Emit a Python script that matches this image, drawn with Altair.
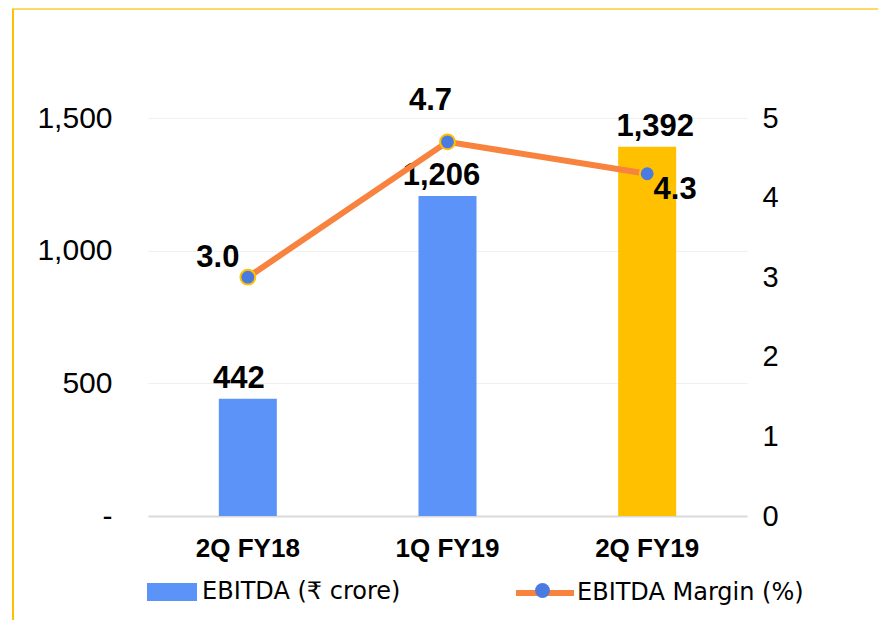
import altair as alt
import pandas as pd

categories = ["2Q FY18", "1Q FY19", "2Q FY19"]
ebitda = [442, 1206, 1392]
ebitda_labels = ["442", "1,206", "1,392"]
margin = [3.0, 4.7, 4.3]
margin_labels = ["3.0", "4.7", "4.3"]
highlight = ["2Q FY19"]
left_ticks = [0, 500, 1000, 1500]
right_ticks = [0, 1, 2, 3, 4, 5]

BAR_NAME = "EBITDA (₹ crore)"
LINE_NAME = "EBITDA Margin (%)"

BLUE = "#5B93F8"
GOLD = "#FFC000"
ORANGE = "#F7833E"
MARKER = "#4A7BE0"
FONT = "Liberation Sans"
LEG_FONT = "DejaVu Sans"

df = pd.DataFrame({
    "category": categories,
    "ebitda": ebitda,
    "ebitda_label": ebitda_labels,
    "margin": margin,
    "margin_label": margin_labels,
    "bar_series": BAR_NAME,
    "line_series": LINE_NAME,
    "pt_series": "marker",
})

W, H = 599, 398

x_enc = alt.X(
    "category:N",
    sort=categories,
    scale=alt.Scale(paddingInner=0, paddingOuter=0),
    axis=alt.Axis(
        title=None, labelAngle=0, labelFont=FONT, labelFontSize=26,
        labelFontWeight="bold", labelColor="black", ticks=False,
        labelPadding=19, domainColor="#D9D9D9", domainWidth=2,
    ),
)

y_left = alt.Y(
    "ebitda:Q",
    scale=alt.Scale(domain=[0, 1500]),
    axis=alt.Axis(
        title=None, orient="left", values=left_ticks, ticks=False, domain=False,
        labelFont=FONT, labelFontSize=30, labelColor="black", labelPadding=36,
        labelExpr="datum.value == 0 ? '-\u00a0\u00a0' : format(datum.value, ',')",
        gridColor="#F0F0F0", gridWidth=1,
    ),
)

y_right = alt.Y(
    "margin:Q",
    scale=alt.Scale(domain=[0, 5]),
    axis=alt.Axis(
        title=None, orient="right", values=right_ticks, ticks=False, domain=False,
        grid=False, labelFont=FONT, labelFontSize=29, labelColor="black",
        labelPadding=15,
    ),
)

base = alt.Chart(df)

bars = base.mark_bar(size=58).encode(
    x=x_enc,
    y=y_left,
    fill=alt.condition(
        alt.FieldOneOfPredicate(field="category", oneOf=highlight),
        alt.value(GOLD),
        alt.Fill(
            "bar_series:N",
            scale=alt.Scale(domain=[BAR_NAME], range=[BLUE]),
            legend=alt.Legend(
                title=None, orient="none", legendX=-1, legendY=449, padding=0,
                symbolType="M-1,-0.36L1,-0.36L1,0.36L-1,0.36Z", symbolSize=2500,
                symbolStrokeWidth=0, labelFont=LEG_FONT, labelFontSize=24,
                labelColor="black", labelLimit=400, labelOffset=5,
            ),
        ),
    ),
)

bar_offsets = {"2Q FY18": -9, "1Q FY19": -6, "2Q FY19": 8}
bar_texts = []
for cat, ddx in bar_offsets.items():
    bar_texts.append(
        base.transform_filter(alt.datum.category == cat).mark_text(
            font=FONT, fontSize=31, fontWeight="bold", color="black",
            baseline="middle", align="center", dx=ddx, dy=-20,
        ).encode(x=x_enc, y=y_left, text="ebitda_label:N")
    )

left_layer = alt.layer(bars, *bar_texts)

line = base.mark_line(strokeWidth=6).encode(
    x=x_enc,
    y=y_right,
    stroke=alt.Stroke(
        "line_series:N",
        scale=alt.Scale(domain=[LINE_NAME], range=[ORANGE]),
        legend=alt.Legend(
            title=None, orient="none", legendX=365, legendY=443, padding=0,
            symbolType="stroke", symbolSize=3364, symbolStrokeWidth=6,
            labelFont=LEG_FONT, labelFontSize=24, labelColor="black",
            labelLimit=400, labelOffset=0,
        ),
    ),
)

points = base.mark_point(
    filled=True, size=220, fill=MARKER, stroke=GOLD, strokeWidth=2, opacity=1
).encode(
    x=x_enc,
    y=y_right,
    shape=alt.Shape(
        "pt_series:N",
        scale=alt.Scale(domain=["marker"], range=["circle"]),
        legend=alt.Legend(
            title=None, orient="none", legendX=386, legendY=464, padding=0,
            symbolType="circle", symbolSize=220, symbolFillColor=MARKER,
            symbolStrokeColor=GOLD, symbolStrokeWidth=2, labelExpr="''",
        ),
    ),
)

label_offsets = {"2Q FY18": (-30, -19), "1Q FY19": (-17, -41), "2Q FY19": (28, 16)}
margin_texts = []
for cat, (ddx, ddy) in label_offsets.items():
    margin_texts.append(
        base.transform_filter(alt.datum.category == cat).mark_text(
            font=FONT, fontSize=31, fontWeight="bold", color="black",
            baseline="middle", align="center", dx=ddx, dy=ddy,
        ).encode(x=x_enc, y=y_right, text="margin_label:N")
    )

right_layer = alt.layer(line, points, *margin_texts)

frame_data = alt.Data(values=[{"k": 1}])
frame_left = alt.Chart(frame_data).mark_rule(color=GOLD, strokeWidth=2).encode(
    x=alt.value(-135), y=alt.value(-109), y2=alt.value(H + 110)
)
frame_top = alt.Chart(frame_data).mark_rule(color=GOLD, strokeWidth=1.5, opacity=0.8).encode(
    x=alt.value(-136), x2=alt.value(W + 140), y=alt.value(-109)
)

chart = alt.layer(left_layer, right_layer, frame_left, frame_top).resolve_scale(
    y="independent"
).properties(
    width=W,
    height=H,
    autosize=alt.AutoSizeParams(type="none"),
    padding={"left": 140, "top": 110, "right": 131, "bottom": 104},
    background="white",
).configure_view(stroke=None)

chart.save("out.html", embed_options={"renderer": "svg", "actions": False})
